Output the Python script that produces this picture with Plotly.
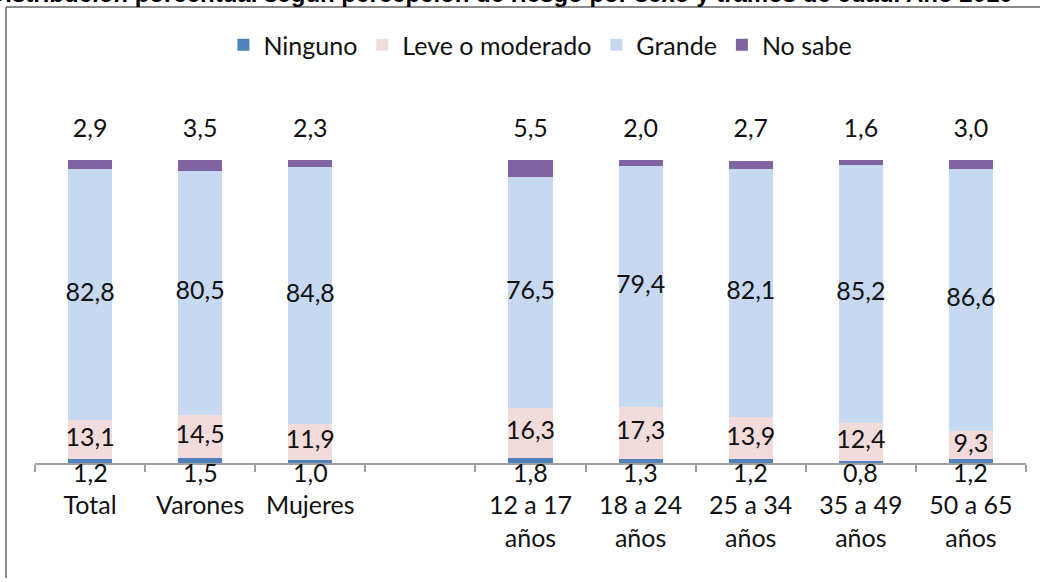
import plotly.graph_objects as go
import numpy as np

categories = ["Total", "Varones", "Mujeres", " ", "12 a 17<br>años", "18 a 24<br>años",
              "25 a 34<br>años", "35 a 49<br>años", "50 a 65<br>años"]
ninguno = [1.2, 1.5, 1.0, None, 1.8, 1.3, 1.2, 0.8, 1.2]
leve = [13.1, 14.5, 11.9, None, 16.3, 17.3, 13.9, 12.4, 9.3]
grande = [82.8, 80.5, 84.8, None, 76.5, 79.4, 82.1, 85.2, 86.6]
no_sabe = [2.9, 3.5, 2.3, None, 5.5, 2.0, 2.7, 1.6, 3.0]

series = [
    ("Ninguno", ninguno, "#4F81BD"),
    ("Leve o moderado", leve, "#F2DCDB"),
    ("Grande", grande, "#C6D9F1"),
    ("No sabe", no_sabe, "#8064A2"),
]

FONT = "Lato"
FS = 25
fig = go.Figure()
for name, vals, col in series:
    fig.add_trace(go.Bar(
        x=categories, y=[v if v is not None else 0 for v in vals], name=name,
        marker=dict(color=col, line=dict(width=0)), width=0.4,
        hoverinfo="skip",
    ))

def fmt(v):
    return f"{v:.1f}".replace(".", ",")

idx = [i for i, v in enumerate(ninguno) if v is not None]
xs = [categories[i] for i in idx]
n = np.array([ninguno[i] for i in idx])
l = np.array([leve[i] for i in idx])
g = np.array([grande[i] for i in idx])
s = np.array([no_sabe[i] for i in idx])

label_sets = [
    (n + l / 2, l),
    (n + l + g / 2, g),
    (np.full(len(idx), 109.8), s),
]
for ys, vals in label_sets:
    fig.add_trace(go.Scatter(
        x=xs, y=ys, mode="text", text=[fmt(v) for v in vals],
        textposition="middle center", showlegend=False, cliponaxis=False,
        textfont=dict(family=FONT, size=FS, color="#111111"), hoverinfo="skip",
    ))

# Ninguno labels below the axis
for xv, v in zip(xs, n):
    fig.add_annotation(x=xv, y=0, xref="x", yref="y", text=fmt(v), showarrow=False,
                       yanchor="middle", yshift=-9,
                       font=dict(family=FONT, size=FS, color="#111111"))

# frame (left and top edges of the chart area), kept inside the page
top = 1 + (130 - 7) / 333
left = (6 - 35) / 991
right = (1040 - 35) / 991
bottom = (463 - 578) / 333
fig.add_shape(type="line", xref="paper", yref="paper", x0=left, x1=left, y0=bottom, y1=top,
              line=dict(color="#8C8C8C", width=2), layer="above")
fig.add_shape(type="line", xref="paper", yref="paper", x0=left, x1=right, y0=top, y1=top,
              line=dict(color="#8C8C8C", width=2), layer="above")

fig.add_annotation(
    text="<b>Distribución porcentual según percepción de riesgo por sexo y tramos de edad. Año 2010</b>",
    xref="paper", yref="paper", x=0.47, y=1 + (130 - 9) / 333, yanchor="bottom",
    showarrow=False, font=dict(family="Liberation Sans", size=24, color="black"),
)

fig.update_layout(
    width=1043, height=582,
    margin=dict(l=35, r=17, t=130, b=119, autoexpand=False),
    barmode="stack", bargap=0.6,
    plot_bgcolor="white", paper_bgcolor="white",
    font=dict(family=FONT, size=FS, color="#111111"),
    legend=dict(orientation="h", x=0.51, xanchor="center",
                y=1 + (130 - 45) / 333, yanchor="middle",
                font=dict(family=FONT, size=25), itemwidth=30,
                traceorder="normal"),
    showlegend=True,
)
fig.update_xaxes(
    type="category", categoryorder="array", categoryarray=categories,
    showline=True, linecolor="#A0A0A0", linewidth=2,
    ticks="outside", tickson="boundaries", ticklen=7, tickcolor="#A0A0A0", tickwidth=1.5,
    ticklabelstandoff=19, showgrid=False, zeroline=False, automargin=False,
    tickfont=dict(family=FONT, size=FS, color="#111111"),
)
fig.update_yaxes(range=[0, 110], visible=False, showgrid=False, zeroline=False,
                 automargin=False)

fig.write_html(
    "out.html", config={"displayModeBar": False},
    post_script=("document.body.style.margin='0';"
                 "document.body.style.overflow='hidden';"
                 "document.documentElement.style.overflow='hidden';"
                 "document.documentElement.style.scrollbarWidth='none';"),
)
